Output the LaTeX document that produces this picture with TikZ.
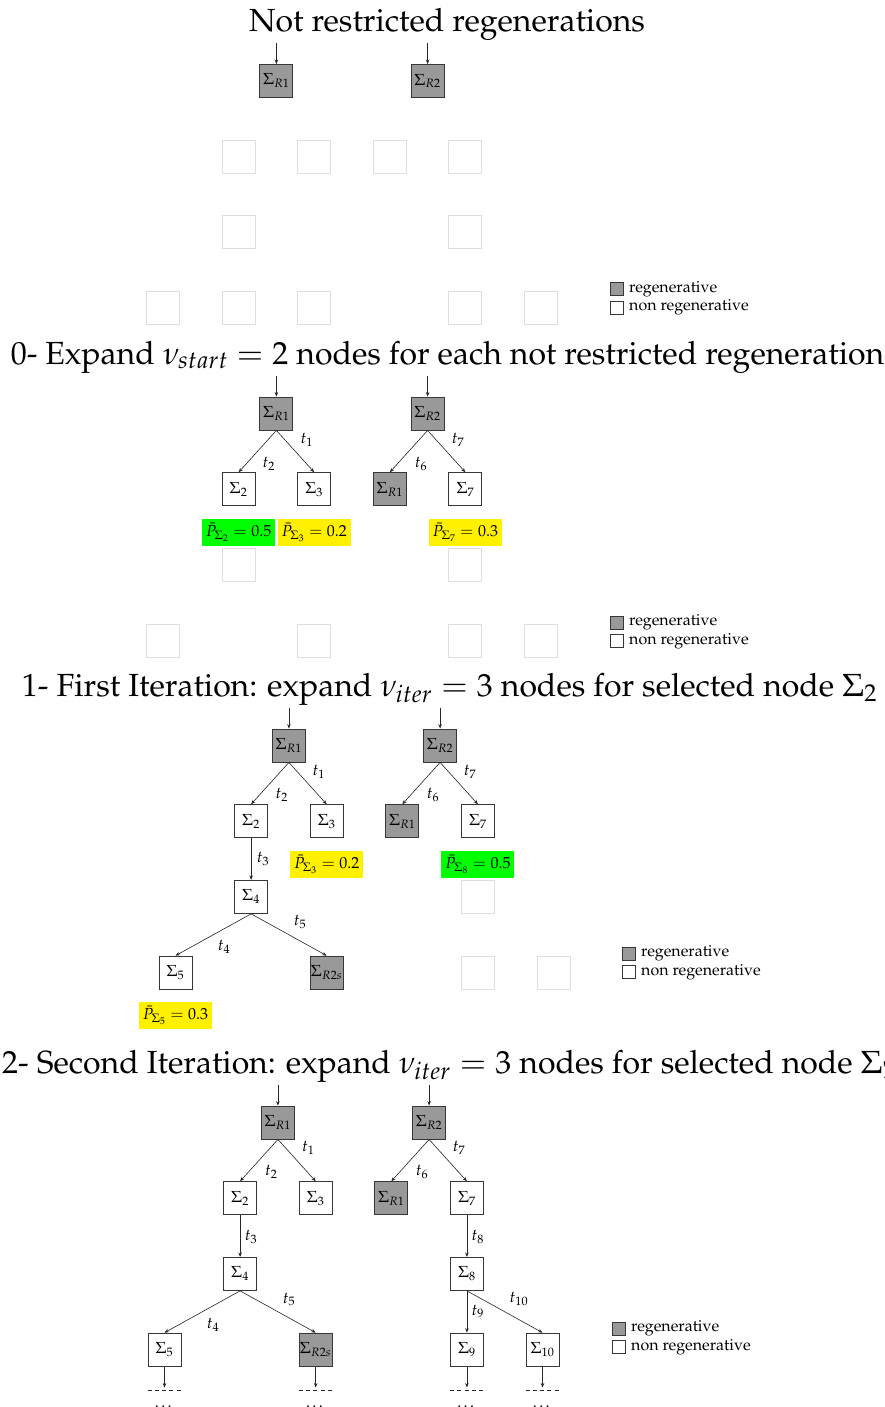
\documentclass[tikz,border=0pt]{standalone}
\usepackage[T1]{fontenc}
\usepackage{mathpazo}
\usetikzlibrary{arrows.meta,calc}
\definecolor{regen}{RGB}{153,153,153}
\definecolor{edgegray}{RGB}{55,55,55}
\definecolor{ghostgray}{RGB}{222,222,222}
\definecolor{hiyellow}{RGB}{255,240,0}
\definecolor{higreen}{RGB}{0,255,0}
\tikzset{
  base/.style={font=\fontsize{16}{19}\selectfont},
  state/.style={base, draw=edgegray, line width=0.9pt, minimum size=33pt, inner sep=0pt, fill=white},
  regstate/.style={state, fill=regen},
  ghost/.style={draw=ghostgray, line width=0.9pt, minimum size=33pt, inner sep=0pt},
  prob/.style={base, minimum width=73pt, minimum height=27pt, inner sep=0pt},
  ylw/.style={prob, fill=hiyellow},
  grn/.style={prob, fill=higreen},
  trans/.style={base, inner sep=0pt},
  link/.style={-{Stealth[length=4.5pt,width=3.5pt]}, line width=0.6pt, black!85},
  heading/.style={font=\fontsize{32}{37}\selectfont, inner sep=0pt},
  legbox/.style={draw=edgegray, line width=0.7pt, minimum size=13pt, inner sep=0pt},
  legtext/.style={base, anchor=west, inner sep=0pt},
  tail/.style={line width=0.6pt, black!85, dash pattern=on 4pt off 3.3pt},
}
% column and row positions of the tree grid (local to each panel)
\def\Ca{0}\def\Cb{75.6}\def\Cc{151.2}\def\Cd{226.8}\def\Ce{302.4}\def\Cf{378}
\def\Ra{113.4}\def\Rb{264.6}
\def\ra{0}\def\rb{75.7}\def\rc{151.4}\def\rd{227.1}

\begin{document}
\begin{tikzpicture}[x=1pt,y=-1pt]
\clip (0,0) rectangle (884,1407);
\fill[white] (0,0) rectangle (884,1407);

% ---------------- headings ----------------
\node[heading, anchor=base] (h1) at (447,32) {Not restricted regenerations};
\node[heading, anchor=base] (h2) at (447.5,364) {0- Expand $\nu_{start}=2$ nodes for each not restricted regeneration};
\node[heading, anchor=base] (h3) at (449.5,696) {1- First Iteration: expand $\nu_{iter}=3$ nodes for selected node $\Sigma_2$};
\node[heading, anchor=base west] (h4) at (2,1073) {2- Second Iteration: expand $\nu_{iter}=3$ nodes for selected node $\Sigma_7$};

% ---------------- panel 0: roots only ----------------
\begin{scope}[shift={(163,81)}]
  \node[regstate] (aR1) at (\Ra,\ra) {$\Sigma_{R1}$};
  \node[regstate] (aR2) at (\Rb,\ra) {$\Sigma_{R2}$};
  \coordinate (aR1in) at (\Ra,-38);
  \coordinate (aR2in) at (\Rb,-38);
  \draw[link] (aR1in) -- (aR1);
  \draw[link] (aR2in) -- (aR2);
  \foreach \p/\c/\r in {1/\Cb/\rb,2/\Cc/\rb,3/\Cd/\rb,4/\Ce/\rb,5/\Cb/\rc,6/\Ce/\rc,
                        7/\Ca/\rd,8/\Cb/\rd,9/\Cc/\rd,10/\Ce/\rd,11/\Cf/\rd}
    \node[ghost] (ag\p) at (\c,\r) {};
  \node[legbox, fill=regen] (aL1) at (454,208) {};
  \node[legbox, fill=white] (aL2) at (454,226.5) {};
  \node[legtext] (aT1) at (466,208) {regenerative};
  \node[legtext] (aT2) at (466,226.5) {non regenerative};
\end{scope}

% ---------------- panel 1: initial expansion ----------------
\begin{scope}[shift={(163,413.5)}]
  \node[regstate] (bR1) at (\Ra,\ra) {$\Sigma_{R1}$};
  \node[regstate] (bR2) at (\Rb,\ra) {$\Sigma_{R2}$};
  \coordinate (bR1in) at (\Ra,-38);
  \coordinate (bR2in) at (\Rb,-38);
  \draw[link] (bR1in) -- (bR1);
  \draw[link] (bR2in) -- (bR2);
  \node[state] (bS2) at (\Cb,\rb) {$\Sigma_{2}$};
  \node[state] (bS3) at (\Cc,\rb) {$\Sigma_{3}$};
  \node[regstate] (bR1c) at (\Cd,\rb) {$\Sigma_{R1}$};
  \node[state] (bS7) at (\Ce,\rb) {$\Sigma_{7}$};
  \draw[link] (bR1.south) -- (bS2.north);
  \draw[link] (bR1.south) -- (bS3.north);
  \draw[link] (bR2.south) -- (bR1c.north);
  \draw[link] (bR2.south) -- (bS7.north);
  \node[trans] (bt1) at ($(bR1)+(30.5,26.5)$) {$t_1$};
  \node[trans] (bt2) at ($(bR1)+(-7.5,50.5)$) {$t_2$};
  \node[trans] (bt6) at ($(bR2)+(-6.5,50.5)$) {$t_6$};
  \node[trans] (bt7) at ($(bR2)+(30.5,26.5)$) {$t_7$};
  \node[grn] (bP2) at ($(bS2)+(0,43.5)$) {$\bar{P}_{\Sigma_2}=0.5$};
  \node[ylw] (bP3) at ($(bS3)+(0,43.5)$) {$\bar{P}_{\Sigma_3}=0.2$};
  \node[ylw] (bP7) at ($(bS7)+(0,43.5)$) {$\bar{P}_{\Sigma_7}=0.3$};
  \foreach \p/\c/\r in {1/\Cb/\rc,2/\Ce/\rc,3/\Ca/\rd,4/\Cc/\rd,5/\Ce/\rd,6/\Cf/\rd}
    \node[ghost] (bg\p) at (\c,\r) {};
  \node[legbox, fill=regen] (bL1) at (454,209) {};
  \node[legbox, fill=white] (bL2) at (454,227.5) {};
  \node[legtext] (bT1) at (466,209) {regenerative};
  \node[legtext] (bT2) at (466,227.5) {non regenerative};
\end{scope}

% ---------------- panel 2: first iteration ----------------
\begin{scope}[shift={(175.5,745.5)}]
  \node[regstate] (cR1) at (\Ra,\ra) {$\Sigma_{R1}$};
  \node[regstate] (cR2) at (\Rb,\ra) {$\Sigma_{R2}$};
  \coordinate (cR1in) at (\Ra,-38);
  \coordinate (cR2in) at (\Rb,-38);
  \draw[link] (cR1in) -- (cR1);
  \draw[link] (cR2in) -- (cR2);
  \node[state] (cS2) at (\Cb,\rb) {$\Sigma_{2}$};
  \node[state] (cS3) at (\Cc,\rb) {$\Sigma_{3}$};
  \node[regstate] (cR1c) at (\Cd,\rb) {$\Sigma_{R1}$};
  \node[state] (cS7) at (\Ce,\rb) {$\Sigma_{7}$};
  \node[state] (cS4) at (\Cb,\rc) {$\Sigma_{4}$};
  \node[state] (cS5) at (\Ca,\rd) {$\Sigma_{5}$};
  \node[regstate] (cR2s) at (\Cc,\rd) {$\Sigma_{R2s}$};
  \draw[link] (cR1.south) -- (cS2.north);
  \draw[link] (cR1.south) -- (cS3.north);
  \draw[link] (cR2.south) -- (cR1c.north);
  \draw[link] (cR2.south) -- (cS7.north);
  \draw[link] (cS2.south) -- (cS4.north);
  \draw[link] (cS4.south) -- (cS5.north);
  \draw[link] (cS4.south) -- (cR2s.north);
  \node[trans] (ct1) at ($(cR1)+(30,26.5)$) {$t_1$};
  \node[trans] (ct2) at ($(cR1)+(-7,49.5)$) {$t_2$};
  \node[trans] (ct6) at ($(cR2)+(-7,49.5)$) {$t_6$};
  \node[trans] (ct7) at ($(cR2)+(30,26.5)$) {$t_7$};
  \node[trans] (ct3) at ($(cS2)+(12,38)$) {$t_3$};
  \node[trans] (ct5) at ($(cS4)+(49,25)$) {$t_5$};
  \node[trans] (ct4) at ($(cS4)+(-27,50)$) {$t_4$};
  \node[ylw] (cP3) at ($(cS3)+(0,43.5)$) {$\bar{P}_{\Sigma_3}=0.2$};
  \node[grn] (cP8) at ($(cS7)+(0,43.5)$) {$\bar{P}_{\Sigma_8}=0.5$};
  \node[ylw] (cP5) at ($(cS5)+(0,43)$) {$\bar{P}_{\Sigma_5}=0.3$};
  \foreach \p/\c/\r in {1/\Ce/\rc,2/\Ce/\rd,3/\Cf/\rd}
    \node[ghost] (cg\p) at (\c,\r) {};
  \node[legbox, fill=regen] (cL1) at (453.5,208) {};
  \node[legbox, fill=white] (cL2) at (453.5,226.5) {};
  \node[legtext] (cT1) at (465.5,208) {regenerative};
  \node[legtext] (cT2) at (465.5,226.5) {non regenerative};
\end{scope}

% ---------------- panel 3: second iteration ----------------
\begin{scope}[shift={(164.5,1122.5)}]
  \node[regstate] (dR1) at (\Ra,\ra) {$\Sigma_{R1}$};
  \node[regstate] (dR2) at (\Rb,\ra) {$\Sigma_{R2}$};
  \coordinate (dR1in) at (\Ra,-38);
  \coordinate (dR2in) at (\Rb,-38);
  \draw[link] (dR1in) -- (dR1);
  \draw[link] (dR2in) -- (dR2);
  \node[state] (dS2) at (\Cb,\rb) {$\Sigma_{2}$};
  \node[state] (dS3) at (\Cc,\rb) {$\Sigma_{3}$};
  \node[regstate] (dR1c) at (\Cd,\rb) {$\Sigma_{R1}$};
  \node[state] (dS7) at (\Ce,\rb) {$\Sigma_{7}$};
  \node[state] (dS4) at (\Cb,\rc) {$\Sigma_{4}$};
  \node[state] (dS8) at (\Ce,\rc) {$\Sigma_{8}$};
  \node[state] (dS5) at (\Ca,\rd) {$\Sigma_{5}$};
  \node[regstate] (dR2s) at (\Cc,\rd) {$\Sigma_{R2s}$};
  \node[state] (dS9) at (\Ce,\rd) {$\Sigma_{9}$};
  \node[state] (dS10) at (\Cf,\rd) {$\Sigma_{10}$};
  \draw[link] (dR1.south) -- (dS2.north);
  \draw[link] (dR1.south) -- (dS3.north);
  \draw[link] (dR2.south) -- (dR1c.north);
  \draw[link] (dR2.south) -- (dS7.north);
  \draw[link] (dS2.south) -- (dS4.north);
  \draw[link] (dS4.south) -- (dS5.north);
  \draw[link] (dS4.south) -- (dR2s.north);
  \draw[link] (dS7.south) -- (dS8.north);
  \draw[link] (dS8.south) -- (dS9.north);
  \draw[link] (dS8.south) -- (dS10.north);
  \node[trans] (dt1) at ($(dR1)+(30.5,25.5)$) {$t_1$};
  \node[trans] (dt2) at ($(dR1)+(-6.5,49.5)$) {$t_2$};
  \node[trans] (dt6) at ($(dR2)+(-7,49.5)$) {$t_6$};
  \node[trans] (dt7) at ($(dR2)+(30,25.5)$) {$t_7$};
  \node[trans] (dt3) at ($(dS2)+(11,38.5)$) {$t_3$};
  \node[trans] (dt5) at ($(dS4)+(49,25.5)$) {$t_5$};
  \node[trans] (dt4) at ($(dS4)+(-27,50.5)$) {$t_4$};
  \node[trans] (dt8) at ($(dS7)+(11,38.5)$) {$t_8$};
  \node[trans] (dt9) at ($(dS8)+(11,37.5)$) {$t_9$};
  \node[trans] (dt10) at ($(dS8)+(52,25.5)$) {$t_{10}$};
  % open continuations below the leaves
  \foreach \n in {dS5,dR2s,dS9,dS10}{
    \coordinate (\n end) at ($(\n.south)+(0,21)$);
    \draw[link] (\n.south) -- (\n end);
    \draw[tail] ($(\n end)+(-17,3)$) -- ($(\n end)+(17,3)$);
    \node[base, anchor=base, inner sep=0pt] (\n dots) at ($(\n end)+(0,19.5)$) {\ldots};
  }
  \node[legbox, fill=regen] (dL1) at (454.5,206) {};
  \node[legbox, fill=white] (dL2) at (454.5,224.5) {};
  \node[legtext] (dT1) at (466.5,206) {regenerative};
  \node[legtext] (dT2) at (466.5,224.5) {non regenerative};
\end{scope}
\end{tikzpicture}
\end{document}
